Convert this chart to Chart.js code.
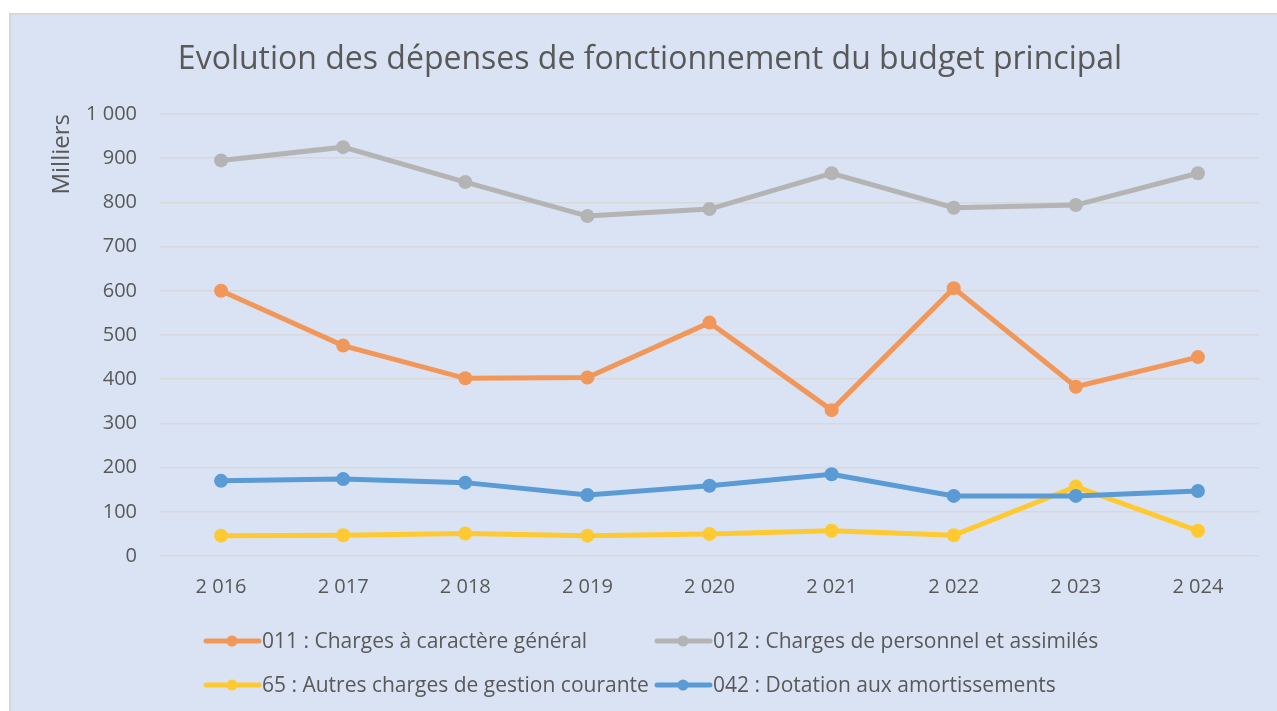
<!DOCTYPE html>
<html><head><meta charset="utf-8">
<script src="https://cdn.jsdelivr.net/npm/chart.js@4.4.1/dist/chart.umd.min.js"></script>
<style>
html,body{margin:0;padding:0;background:#fff;overflow:hidden;}
#wrap{position:absolute;left:9px;top:13px;width:1268px;height:698px;background:#DAE3F3;border-left:2px solid #D5D7DA;border-top:2px solid #D5D7DA;box-sizing:border-box;}
#wrap canvas{display:block}
</style></head>
<body>
<div id="wrap"><canvas id="c" width="1266" height="696"></canvas></div>
<script>
const categories = ['2 016','2 017','2 018','2 019','2 020','2 021','2 022','2 023','2 024'];
const labels011 = '011 : Charges à caractère général';
const labels012 = '012 : Charges de personnel et assimilés';
const labels65 = '65 : Autres charges de gestion courante';
const labels042 = '042 : Dotation aux amortissements';
const s011 = [600, 476, 402, 404, 528, 330, 606, 383, 450];
const s012 = [895, 925, 846, 769, 785, 866, 788, 794, 866];
const s65  = [46, 47, 51, 46, 50, 57, 47, 157, 57];
const s042 = [170, 174, 166, 138, 159, 185, 136, 136, 147];
const yTicks = [0,100,200,300,400,500,600,700,800,900,1000];

const FONT = "'Open Sans', 'Noto Sans', sans-serif";
const TXT = '#595959';
Chart.defaults.font.family = FONT;
Chart.defaults.color = TXT;

function fmt(v){ const s = String(v); return s.length > 3 ? s.slice(0, s.length-3) + ' ' + s.slice(-3) : s; }

function ds(label, data, color, order){
  return {label, data, borderColor: color, backgroundColor: color, pointBackgroundColor: color,
    pointBorderColor: color, borderWidth: 5, pointRadius: 7, pointHoverRadius: 7, pointBorderWidth: 0,
    tension: 0, order};
}

const legendPlugin = {
  id: 'gridLegend',
  afterDraw(chart){
    const ctx = chart.ctx;
    const cols = [193, 644];
    const rows = [626, 670];
    const items = [[0,0,0],[1,1,0],[2,0,1],[3,1,1]];
    ctx.save();
    ctx.font = "21px " + FONT;
    ctx.textBaseline = 'middle';
    ctx.textAlign = 'left';
    items.forEach(([i,c,r]) => {
      const d = chart.data.datasets[i];
      const x = cols[c], y = rows[r];
      ctx.strokeStyle = d.borderColor; ctx.lineWidth = 5; ctx.lineCap = 'round';
      ctx.beginPath(); ctx.moveTo(x+2, y); ctx.lineTo(x+55, y); ctx.stroke();
      ctx.fillStyle = d.borderColor;
      ctx.beginPath(); ctx.arc(x+28, y, 5.5, 0, Math.PI*2); ctx.fill();
      ctx.fillStyle = TXT;
      ctx.fillText(d.label, x+58, y+1);
    });
    ctx.restore();
  }
};

new Chart(document.getElementById('c'), {
  type: 'line',
  data: {
    labels: categories,
    datasets: [
      ds(labels011, s011, '#F1975A', 3),
      ds(labels012, s012, '#B4B4B4', 2),
      ds(labels65, s65, '#FFC932', 1),
      ds(labels042, s042, '#5B9BD5', 0)
    ]
  },
  options: {
    responsive: false,
    animation: false,
    layout: { padding: { left: 30, right: 18, top: 0, bottom: 95 } },
    plugins: {
      legend: { display: false },
      tooltip: { enabled: false },
      title: { display: true, text: 'Evolution des dépenses de fonctionnement du budget principal',
        color: TXT, font: { size: 32, weight: 'normal', family: FONT }, padding: { top: 26, bottom: 34.6 } }
    },
    scales: {
      x: {
        offset: true,
        grid: { display: false, drawTicks: false },
        border: { display: false },
        ticks: { color: TXT, font: { size: 20 }, padding: 19, maxRotation: 0 },
        afterFit(s){ s.height = 60; }
      },
      y: {
        min: 0, max: 1000,
        afterBuildTicks(s){ s.ticks = yTicks.map(v => ({value: v})); },
        grid: { color: '#D6D8DB', lineWidth: 1.5, drawTicks: false },
        border: { display: false },
        ticks: { color: TXT, font: { size: 20 }, padding: 23, callback: v => fmt(v) },
        title: { display: true, text: 'Milliers', align: 'end', color: TXT, font: { size: 24 }, padding: { top: 6.6, bottom: 0 } },
        afterFit(s){ s.width = 119; }
      }
    }
  },
  plugins: [legendPlugin]
});
</script>
</body></html>
